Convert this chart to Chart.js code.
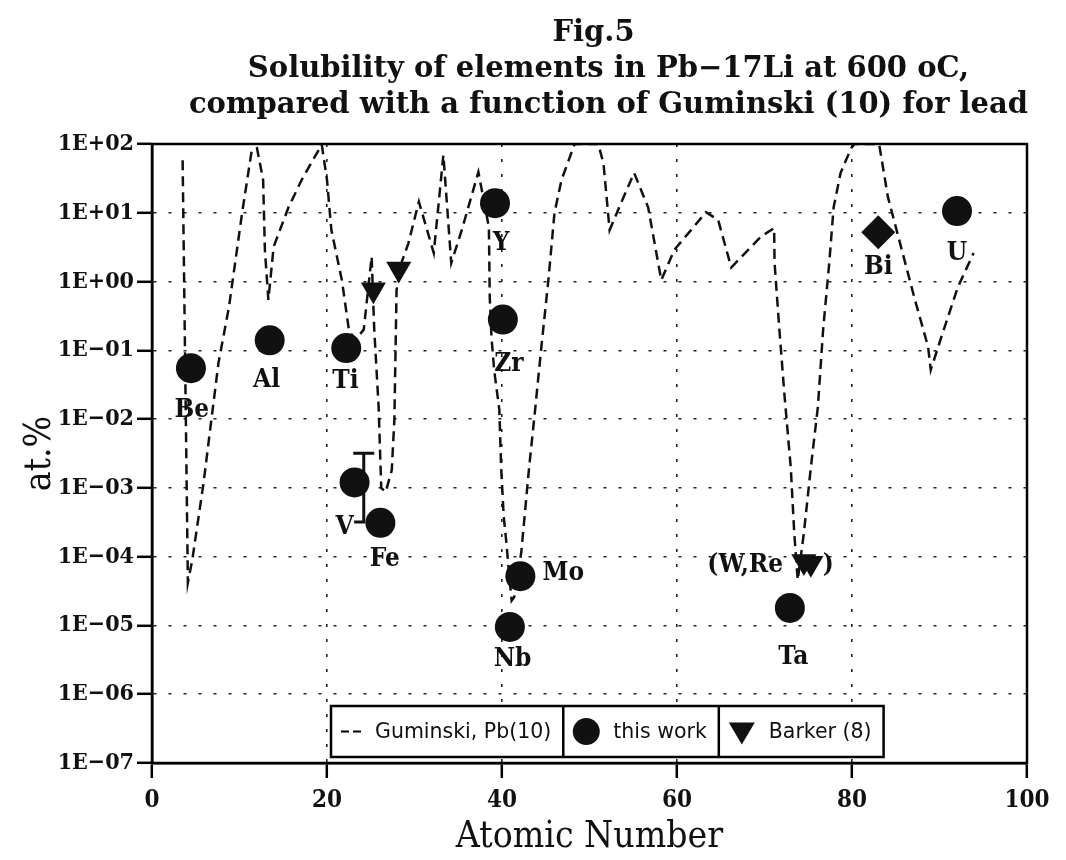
<!DOCTYPE html>
<html>
<head>
<meta charset="utf-8">
<title>Fig.5 Solubility of elements in Pb-17Li</title>
<script src="https://cdn.jsdelivr.net/npm/chart.js@4.4.1/dist/chart.umd.min.js"></script>
<style>
  html, body { margin: 0; padding: 0; background: #fff; }
  #wrap { width: 1066px; height: 860px; }
</style>
</head>
<body>
<div id="wrap"><canvas id="solChart" width="1066" height="860"></canvas></div>
<script>
// Guminski (10): solubility function for lead, at.% against atomic number
const gumZ = [3.5, 4.1, 4.6, 5.9, 6.6, 7.6, 8.8, 10.3, 11.4, 12.0, 12.7, 12.9, 13.3, 13.9, 15.6, 17.1,
  19.4, 20.0, 20.5, 21.7, 22.5, 23.2, 24.2, 25.1, 25.4, 25.9, 26.2, 26.7, 27.4, 27.7, 27.95, 28.5,
  29.3, 30.5, 32.2, 33.3, 34.2, 35.4, 37.3, 38.5, 38.6, 38.8, 39.1, 39.7, 39.9, 40.2, 40.5, 40.8,
  41.1, 41.4, 42.2, 43.1, 43.7, 44.5, 45.3, 46.0, 46.8, 48.3, 51.0, 51.6, 52.3, 53.6, 55.1, 56.7,
  58.2, 59.7, 61.6, 63.3, 64.7, 66.2, 69.6, 71.1, 71.15, 71.7, 72.3, 73.0, 73.4, 73.8, 74.5, 75.3,
  76.1, 76.7, 77.4, 77.9, 78.7, 79.9, 80.3, 83.1, 84.1, 85.6, 87.1, 88.7, 89.0, 90.2, 92.1, 93.9];
const gumVal = [58, 4.2e-5, 8.9e-5, 1.2e-3, 6.3e-3, 0.066, 0.43, 10, 81, 87, 30, 2.9, 0.54, 3.2, 12, 30,
  98, 30, 5.6, 1.05, 0.20, 0.14, 0.20, 2.3, 0.20, 0.015, 1.0e-3, 8.7e-4, 1.8e-3, 9.8e-3, 0.76, 1.86,
  3.6, 14.5, 2.6, 69, 1.86, 5.6, 39, 6.2, 0.60, 0.155, 0.052, 0.0135, 2.0e-3, 3.8e-4, 1.6e-4, 5.8e-5,
  2.3e-5, 2.6e-5, 1.15e-4, 2.0e-3, 0.0107, 0.112, 1.05, 10, 30, 100, 100, 52, 5.6, 13.8, 38, 12,
  1.05, 2.9, 5.6, 10.2, 7.9, 1.6, 4.5, 6.0, 1.86, 0.20, 0.021, 2.0e-3, 2.2e-4, 4.6e-5, 2.2e-4, 2.0e-3,
  0.015, 0.20, 1.86, 12, 38, 87, 100, 100, 17, 3.2, 0.60, 0.112, 0.052, 0.155, 0.83, 2.6];

// this work
const workZ = [4.45, 13.45, 22.2, 23.15, 26.1, 39.2, 40.1, 40.9, 42.1, 72.9, 92.0];
const workVal = [0.055, 0.14, 0.108, 1.2e-3, 3.1e-4, 13.8, 0.28, 9.5e-6, 5.2e-5, 1.8e-5, 10.6];

// Barker (8)
const barkerZ = [25.3, 28.2, 74.5, 75.3];
const barkerVal = [0.76, 1.52, 8.5e-5, 8.0e-5];

// Bi, separate marker
const biZ = [83.0];
const biVal = [5.2];

// error bar on V: top cap, stem, bottom stub
const vErrZ = [23.0, 25.4, 24.2, 24.2, 23.1];
const vErrVal = [3.2e-3, 3.2e-3, 3.2e-3, 3.2e-4, 3.2e-4];

// element names and where they sit (atomic number, at.%)
const elText = ['Be', 'Al', 'Ti', 'V', 'Fe', 'Y', 'Zr', 'Mo', 'Nb', 'Ta', 'Bi', 'U', '(W,Re', ')'];
const elZ = [4.56, 13.1, 22.1, 22.0, 26.6, 39.9, 40.8, 47.0, 41.2, 73.3, 83.0, 92.0, 67.8, 77.3];
const elVal = [0.0135, 0.037, 0.035, 2.7e-4, 9.3e-5, 3.6, 0.062, 5.8e-5, 3.2e-6, 3.4e-6, 1.6, 2.6, 7.5e-5, 7.5e-5];

const xTicks = [0, 20, 40, 60, 80, 100];
const xTickLabels = ['0', '20', '40', '60', '80', '100'];
const yTicks = [1e-7, 1e-6, 1e-5, 1e-4, 1e-3, 1e-2, 1e-1, 1, 10, 100];
const yTickLabels = ['1E\u221207', '1E\u221206', '1E\u221205', '1E\u221204', '1E\u221203',
  '1E\u221202', '1E\u221201', '1E+00', '1E+01', '1E+02'];

const titleLines = ['Fig.5', 'Solubility of elements in Pb\u221217Li at 600 oC,',
  'compared with a function of Guminski (10) for lead'];

const SERIF_C = "'DejaVu Serif Condensed', 'DejaVu Serif', serif";
const SERIF = "'DejaVu Serif', serif";
const SANS = "'DejaVu Sans', sans-serif";
const INK = '#111';

const pts = (xs, ys) => xs.map((x, i) => ({ x: x, y: ys[i] }));

// three-line heading above the plot
const headline = {
  id: 'headline',
  afterDraw(chart) {
    const a = chart.chartArea, ctx = chart.ctx;
    const mid = (a.left + a.right) / 2;
    ctx.save();
    ctx.fillStyle = INK;
    ctx.font = 'bold 29px ' + SERIF;
    ctx.textAlign = 'center';
    ctx.textBaseline = 'middle';
    titleLines.forEach((t, i) => {
      ctx.fillText(t, mid + (i === 0 ? 4 : 19), 33 + i * 36);
    });
    ctx.restore();
  }
};

// black frame round the plot area
const framePlugin = {
  id: 'frame',
  afterDatasetsDraw(chart) {
    const a = chart.chartArea, ctx = chart.ctx;
    ctx.save();
    ctx.strokeStyle = '#000';
    ctx.lineWidth = 2.5;
    ctx.strokeRect(a.left, a.top, a.right - a.left, a.bottom - a.top);
    ctx.restore();
  }
};

// element symbols next to the markers
const elementLabels = {
  id: 'elementLabels',
  afterDatasetsDraw(chart) {
    const ctx = chart.ctx, xs = chart.scales.x, ys = chart.scales.y;
    ctx.save();
    ctx.fillStyle = INK;
    ctx.font = 'bold 26px ' + SERIF_C;
    ctx.textAlign = 'center';
    ctx.textBaseline = 'middle';
    elText.forEach((t, i) => {
      ctx.fillText(t, xs.getPixelForValue(elZ[i]), ys.getPixelForValue(elVal[i]));
    });
    ctx.restore();
  }
};

// boxed legend sitting on the bottom of the plot, white behind it
const boxLegend = {
  id: 'boxLegend',
  afterDraw(chart) {
    const ctx = chart.ctx, a = chart.chartArea;
    const ds = chart.data.datasets;
    const left = a.left + 179, top = a.bottom - 57, h = 51;
    const mid = top + h / 2;
    const cells = [ds[0], ds[1], ds[2]];
    ctx.save();
    ctx.font = '20.5px ' + SANS;
    ctx.textBaseline = 'middle';

    // cell edges from the label widths
    const edges = [left];
    cells.forEach((d, i) => {
      const symW = i === 0 ? 22 : 28;
      edges.push(edges[i] + 10 + symW + 12 + ctx.measureText(d.label).width + 12);
    });
    const right = edges[edges.length - 1];
    ctx.fillStyle = '#fff';
    ctx.fillRect(left, top, right - left, h);

    ctx.fillStyle = INK;
    ctx.strokeStyle = '#000';
    cells.forEach((d, i) => {
      const symW = i === 0 ? 22 : 28;
      const cx = edges[i] + 10;
      if (i === 0) {
        ctx.lineWidth = 2;
        ctx.setLineDash([8, 4]);
        ctx.beginPath();
        ctx.moveTo(cx, mid);
        ctx.lineTo(cx + symW, mid);
        ctx.stroke();
        ctx.setLineDash([]);
      } else if (i === 1) {
        ctx.beginPath();
        ctx.arc(cx + 13, mid, 13.5, 0, Math.PI * 2);
        ctx.fill();
      } else {
        ctx.beginPath();
        ctx.moveTo(cx, mid - 9);
        ctx.lineTo(cx + 26, mid - 9);
        ctx.lineTo(cx + 13, mid + 13);
        ctx.closePath();
        ctx.fill();
      }
      ctx.fillText(d.label, cx + symW + 12, mid + 1);
    });
    ctx.lineWidth = 2.5;
    ctx.strokeRect(left, top, right - left, h);
    ctx.beginPath();
    edges.slice(1, -1).forEach(e => { ctx.moveTo(e, top); ctx.lineTo(e, top + h); });
    ctx.stroke();
    ctx.restore();
  }
};

new Chart(document.getElementById('solChart'), {
  type: 'scatter',
  data: {
    datasets: [
      {
        label: 'Guminski, Pb(10)',
        data: pts(gumZ, gumVal),
        showLine: true,
        borderColor: INK,
        borderWidth: 2.5,
        borderDash: [10, 6],
        pointRadius: 0,
        tension: 0,
        order: 5
      },
      {
        label: 'this work',
        data: pts(workZ, workVal),
        pointStyle: 'circle',
        pointRadius: 15,
        backgroundColor: INK,
        borderColor: INK,
        borderWidth: 0,
        order: 1
      },
      {
        label: 'Barker (8)',
        data: pts(barkerZ, barkerVal),
        pointStyle: 'triangle',
        rotation: 180,
        pointRadius: 14.5,
        backgroundColor: INK,
        borderColor: INK,
        borderWidth: 0,
        order: 2
      },
      {
        label: 'Bi',
        data: pts(biZ, biVal),
        pointStyle: 'rectRot',
        pointRadius: 17,
        backgroundColor: INK,
        borderColor: INK,
        borderWidth: 0,
        order: 2
      },
      {
        label: 'V error',
        data: pts(vErrZ, vErrVal),
        showLine: true,
        borderColor: INK,
        borderWidth: 3,
        pointRadius: 0,
        order: 3
      }
    ]
  },
  options: {
    responsive: false,
    animation: false,
    events: [],
    layout: { padding: { left: 0, right: 39, top: 144, bottom: 0 } },
    plugins: {
      legend: { display: false },
      tooltip: { enabled: false },
      title: { display: false }
    },
    scales: {
      x: {
        type: 'linear',
        min: 0,
        max: 100,
        afterBuildTicks: s => { s.ticks = xTicks.map(v => ({ value: v })); },
        afterFit: s => { s.height = 97; },
        ticks: {
          callback: (v, i) => xTickLabels[i],
          color: INK,
          padding: 8,
          maxRotation: 0,
          font: { family: SERIF_C, size: 24, weight: 'bold' }
        },
        grid: {
          color: '#222',
          lineWidth: 1.6,
          tickLength: 15,
          tickWidth: 2.5,
          tickColor: '#000',
          tickBorderDash: []
        },
        border: { display: true, color: '#000', width: 2.5, dash: [3, 12] },
        title: {
          display: true,
          text: 'Atomic Number',
          color: INK,
          font: { family: SERIF_C, size: 37 },
          padding: { top: 0, bottom: 0 }
        }
      },
      y: {
        type: 'logarithmic',
        min: 1e-7,
        max: 100,
        afterBuildTicks: s => { s.ticks = yTicks.map(v => ({ value: v })); },
        afterFit: s => { s.width = 152; },
        ticks: {
          callback: (v, i) => yTickLabels[i],
          color: INK,
          padding: 3,
          font: { family: SERIF_C, size: 23, weight: 'bold' }
        },
        grid: {
          color: '#222',
          lineWidth: 1.6,
          tickLength: 15,
          tickWidth: 2.5,
          tickColor: '#000',
          tickBorderDash: []
        },
        border: { display: true, color: '#000', width: 2.5, dash: [3, 12] },
        title: {
          display: true,
          text: 'at.%',
          color: INK,
          font: { family: SERIF_C, size: 37 },
          padding: { top: 18, bottom: 0 }
        }
      }
    }
  },
  plugins: [framePlugin, elementLabels, boxLegend, headline]
});
</script>
</body>
</html>
